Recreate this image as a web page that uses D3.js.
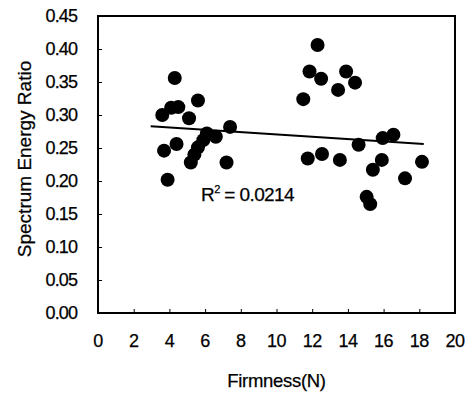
<!DOCTYPE html>
<html>
<head>
<meta charset="utf-8">
<script src="https://cdn.jsdelivr.net/npm/d3@7"></script>
<style>
  body { margin: 0; background: #fff; }
  text { font-family: "Liberation Sans", Arial, sans-serif; fill: #000; stroke: #000; stroke-width: 0.25; }
</style>
</head>
<body>
<div id="chart"></div>
<script>
// firmness (N)
var firmness = [
  3.6, 4.1, 4.5, 5.1, 5.6, 4.3,
  6.1, 6.6, 7.4, 5.9,
  3.7, 4.4, 5.6, 5.4, 5.2, 7.2, 3.9,
  12.3, 11.85, 12.5, 13.45, 13.9, 14.4, 11.5,
  11.75, 12.55, 13.55, 14.6, 15.95, 16.55, 15.9, 18.15,
  15.4, 17.2, 15.05, 15.25
];
// spectrum energy ratio for each point
var energyRatio = [
  0.300, 0.311, 0.312, 0.295, 0.322, 0.356,
  0.272, 0.267, 0.282, 0.262,
  0.246, 0.256, 0.251, 0.240, 0.228, 0.228, 0.202,
  0.406, 0.366, 0.355, 0.338, 0.366, 0.349, 0.324,
  0.234, 0.241, 0.232, 0.255, 0.265, 0.270, 0.232, 0.229,
  0.217, 0.204, 0.176, 0.165
];
// trendline end points
var trendX = [2.95, 18.25];
var trendY = [0.283, 0.256];

var xTicks = [0, 2, 4, 6, 8, 10, 12, 14, 16, 18, 20];
var yTicks = [0, 0.05, 0.1, 0.15, 0.2, 0.25, 0.3, 0.35, 0.4, 0.45];
var rSquared = "0.0214";

var width = 470, height = 398;
var margin = { top: 16, right: 15, bottom: 85, left: 98 };

var svg = d3.select("#chart").append("svg")
  .attr("width", width)
  .attr("height", height);

var x = d3.scaleLinear().domain([0, 20]).range([margin.left, width - margin.right]);
var y = d3.scaleLinear().domain([0, 0.45]).range([height - margin.bottom, margin.top]);

// inward ticks
svg.append("g")
  .attr("transform", "translate(" + margin.left + ",0)")
  .call(d3.axisRight(y).tickValues(yTicks).tickSize(4).tickFormat(""))
  .call(function (g) { g.select(".domain").remove(); });

svg.append("g")
  .attr("transform", "translate(0," + y(0) + ")")
  .call(d3.axisTop(x).tickValues(xTicks.slice(1, -1)).tickSize(4).tickFormat(""))
  .call(function (g) { g.select(".domain").remove(); });

// frame
svg.append("rect")
  .attr("x", x(0))
  .attr("y", y(0.45))
  .attr("width", x(20) - x(0))
  .attr("height", y(0) - y(0.45))
  .attr("fill", "none")
  .attr("stroke", "#000")
  .attr("stroke-width", 2);

// tick labels
svg.selectAll(".ylab")
  .data(yTicks)
  .enter()
  .append("text")
  .attr("class", "ylab")
  .attr("x", 77)
  .attr("y", function (d) { return y(d) + 6; })
  .attr("text-anchor", "end")
  .attr("font-size", 18)
  .attr("letter-spacing", -0.9)
  .text(function (d) { return d.toFixed(2); });

svg.selectAll(".xlab")
  .data(xTicks)
  .enter()
  .append("text")
  .attr("class", "xlab")
  .attr("x", function (d) { return x(d); })
  .attr("y", 347)
  .attr("text-anchor", "middle")
  .attr("font-size", 18)
  .attr("letter-spacing", -0.5)
  .text(function (d) { return d; });

// axis titles
svg.append("text")
  .attr("x", (x(0) + x(20)) / 2)
  .attr("y", 387)
  .attr("text-anchor", "middle")
  .attr("font-size", 18.5)
  .attr("letter-spacing", -0.3)
  .text("Firmness(N)");

svg.append("text")
  .attr("transform", "translate(31," + 159 + ") rotate(-90)")
  .attr("text-anchor", "middle")
  .attr("font-size", 19)
  .text("Spectrum Energy Ratio");

// points
var points = firmness.map(function (d, i) { return { x: d, y: energyRatio[i] }; });
svg.selectAll("circle")
  .data(points)
  .enter()
  .append("circle")
  .attr("cx", function (d) { return x(d.x); })
  .attr("cy", function (d) { return y(d.y); })
  .attr("r", 7)
  .attr("fill", "#000");

// trendline
svg.append("line")
  .attr("x1", x(trendX[0]))
  .attr("y1", y(trendY[0]))
  .attr("x2", x(trendX[1]))
  .attr("y2", y(trendY[1]))
  .attr("stroke", "#000")
  .attr("stroke-width", 2);

// R squared label
var rt = svg.append("text")
  .attr("x", 201)
  .attr("y", 201)
  .attr("font-size", 19)
  .attr("letter-spacing", -0.6);
rt.append("tspan").text("R");
rt.append("tspan").attr("dy", -8).attr("font-size", 11).text("2");
rt.append("tspan").attr("dy", 8).text(" = " + rSquared);
</script>
</body>
</html>
